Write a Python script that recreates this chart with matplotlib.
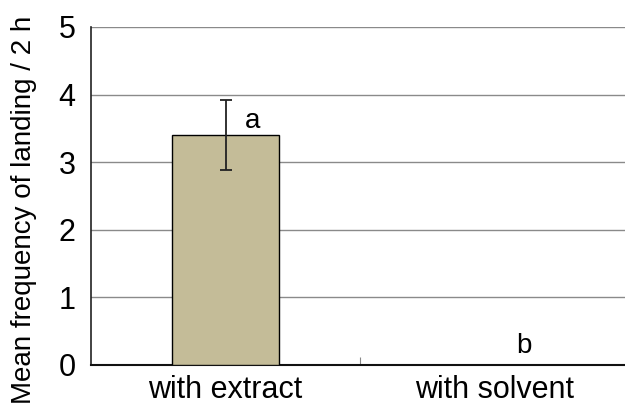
import matplotlib
matplotlib.use('Agg')
import matplotlib.pyplot as plt

plt.rcParams['font.family'] = ['Liberation Sans', 'DejaVu Sans']

# Data
categories = ['with extract', 'with solvent']
means = [3.4, 0.0]
errors = [0.52, 0.0]
letters = ['a', 'b']
yticks = [0, 1, 2, 3, 4, 5]

fig = plt.figure(figsize=(6.25, 4.08), dpi=100)
ax = fig.add_axes([91 / 625, 43 / 408, 538 / 625, 338 / 408])

x = list(range(len(categories)))
ax.bar(x[0], means[0], width=0.4, color='#C4BC98', edgecolor='black', linewidth=1.0, zorder=3)
ax.errorbar(x[0], means[0], yerr=errors[0], fmt='none', ecolor='#222222',
            elinewidth=1.3, capsize=4.5, capthick=1.3, zorder=4)

# significance letters
ax.text(x[0] + 0.10, means[0] + 0.1, letters[0], fontsize=20, ha='center', va='baseline')
ax.text(x[1] + 0.11, means[1] + 0.18, letters[1], fontsize=20, ha='center', va='baseline')

ax.set_xlim(-0.5, 1.5)
ax.set_ylim(0, 5)
ax.set_yticks(yticks)
ax.set_yticklabels([str(t) for t in yticks], fontsize=22)
ax.yaxis.grid(True, color='#8a8a8a', linewidth=1.0, zorder=0)
ax.set_axisbelow(True)
ax.tick_params(axis='y', length=0, pad=11)

ax.set_xticks(x)
ax.set_xticklabels(categories, fontsize=22)
ax.tick_params(axis='x', length=0, pad=7)
ax.set_xticks([0.5], minor=True)
ax.tick_params(axis='x', which='minor', direction='in', length=6, color='#888888', width=0.8)

ax.set_ylabel('Mean frequency of landing / 2 h', fontsize=20)
ax.yaxis.set_label_coords(-0.1, 0.46)

for s in ['top', 'right']:
    ax.spines[s].set_visible(False)
ax.spines['left'].set_color('#222222')
ax.spines['bottom'].set_color('#111111')
ax.spines['left'].set_linewidth(1.2)
ax.spines['bottom'].set_linewidth(1.5)

fig.savefig('out.png', dpi=100)
